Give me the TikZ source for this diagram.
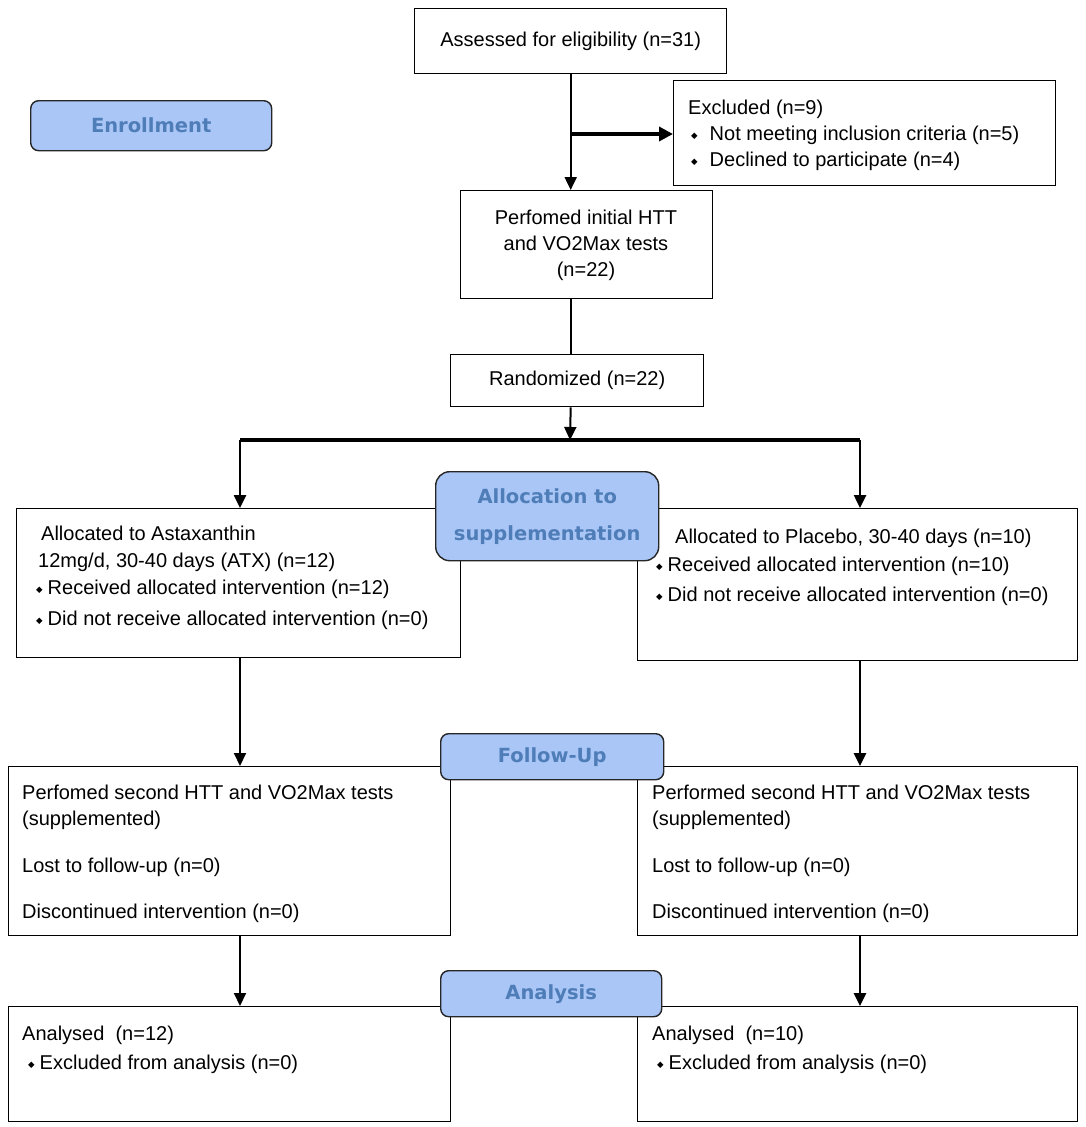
\documentclass[tikz,border=0pt]{standalone}
\usepackage{fontspec}
\setmainfont{Liberation Sans}
\newfontfamily\lblfont{DejaVu Sans}
\newfontfamily\symfont{DejaVu Sans}
\usetikzlibrary{arrows.meta}
\definecolor{lblfill}{HTML}{A9C6F6}
\definecolor{lbltext}{HTML}{4F7DB8}
\definecolor{lbldraw}{HTML}{262626}
\newcommand{\bul}[1][5pt]{\raisebox{2pt}{\symfont\fontsize{8.5}{8.5}\selectfont ◆}\hspace{#1}}
\tikzset{
  box/.style={draw=black, line width=1.4pt, fill=white, inner sep=0pt, anchor=north west},
  txt/.style={anchor=base west, inner sep=0pt, font=\fontsize{20}{26}\selectfont},
  ctxt/.style={inner sep=0pt, align=center, font=\fontsize{20}{26}\selectfont},
  lbl/.style={draw=lbldraw, line width=1.4pt, fill=lblfill, rounded corners=8pt, inner sep=0pt,
    anchor=north west, text=lbltext, align=center,
    font=\lblfont\bfseries\fontsize{19.5}{37}\selectfont},
  arr/.style={-{Triangle[length=13pt,width=12pt]}, line width=2pt},
  plain/.style={line width=2pt},
}
\begin{document}
\begin{tikzpicture}[x=1pt,y=-1pt]
\useasboundingbox[fill=white] (0,0) rectangle (1086,1127);

% boxes
\node[box, minimum width=312, minimum height=65, font=\fontsize{20}{26}\selectfont] (asm) at (414,8) {Assessed for eligibility (n=31)};
\node[box, minimum width=382, minimum height=105] (excl) at (673,80) {};
\node[box, minimum width=252, minimum height=108] (perf) at (460,190) {};
\node[box, minimum width=253, minimum height=52, font=\fontsize{20}{26}\selectfont] (rand) at (450,354) {Randomized (n=22)};
\node[box, minimum width=444, minimum height=149] (alL) at (16,508) {};
\node[box, minimum width=440, minimum height=152] (alR) at (637,508) {};
\node[box, minimum width=442, minimum height=169] (fuL) at (8,766) {};
\node[box, minimum width=440, minimum height=169] (fuR) at (637,766) {};
\node[box, minimum width=442, minimum height=115] (anL) at (8,1006) {};
\node[box, minimum width=440, minimum height=115] (anR) at (637,1006) {};

% labels
\node[lbl, minimum width=241, minimum height=50] (enr) at (30,100) {Enrollment};
\node[lbl, minimum width=223, minimum height=89, rounded corners=14pt] (alloc) at (435,471) {Allocation to\\supplementation};
\node[lbl, minimum width=223, minimum height=46] (fol) at (440,733) {Follow-Up};
\node[lbl, minimum width=221, minimum height=46] (ana) at (440,970) {Analysis};

% texts
\node[txt] (e1) at (688,114) {Excluded (n=9)};
\node[txt] (e2) at (691,140) {\bul[12pt]Not meeting inclusion criteria (n=5)};
\node[txt] (e3) at (691,166) {\bul[12pt]Declined to participate (n=4)};

\node[ctxt] (p1) at (586,245) {Perfomed initial HTT\\and VO2Max tests\\(n=22)};

\node[txt] (l1) at (41,540) {Allocated to Astaxanthin};
\node[txt] (l2) at (38,567) {12mg/d, 30-40 days (ATX) (n=12)};
\node[txt] (l3) at (36,594) {\bul Received allocated intervention (n=12)};
\node[txt] (l4) at (36,625) {\bul Did not receive allocated intervention (n=0)};

\node[txt] (r1) at (675,543) {Allocated to Placebo, 30-40 days (n=10)};
\node[txt] (r2) at (656,571) {\bul Received allocated intervention (n=10)};
\node[txt] (r3) at (656,601) {\bul Did not receive allocated intervention (n=0)};

\node[txt] (f1) at (22,799) {Perfomed second HTT and VO2Max tests};
\node[txt] (f2) at (22,825) {(supplemented)};
\node[txt] (f3) at (22,872) {Lost to follow-up (n=0)};
\node[txt] (f4) at (22,918) {Discontinued intervention (n=0)};

\node[txt] (g1) at (652,799) {Performed second HTT and VO2Max tests};
\node[txt] (g2) at (652,825) {(supplemented)};
\node[txt] (g3) at (652,872) {Lost to follow-up (n=0)};
\node[txt] (g4) at (652,918) {Discontinued intervention (n=0)};

\node[txt] (a1) at (22,1040) {Analysed\ \ (n=12)};
\node[txt] (a2) at (28,1069) {\bul Excluded from analysis (n=0)};
\node[txt] (b1) at (652,1040) {Analysed\ \ (n=10)};
\node[txt] (b2) at (657,1069) {\bul Excluded from analysis (n=0)};

% connectors
\coordinate (j1) at (570,134);
\coordinate (split) at (570,440);
\coordinate (sL) at (240,440);
\coordinate (sR) at (860,440);
\draw[arr] (asm.south) -- (asm.south |- perf.north);
\draw[-{Triangle[length=14pt,width=14pt]}, line width=3.5pt] (j1) -- (j1 -| excl.west);
\draw[plain] (asm.south |- perf.south) -- (asm.south |- rand.north);
\draw[arr] (asm.south |- rand.south) -- (split);
\draw[line width=3.5pt] (sL) -- (sR);
\draw[arr, line width=2.5pt] (sL) -- (sL |- alL.north);
\draw[arr, line width=2.5pt] (sR) -- (sR |- alR.north);
\draw[arr] (sL |- alL.south) -- (sL |- fuL.north);
\draw[arr, line width=2.8pt] (sR |- alR.south) -- (sR |- fuR.north);
\draw[arr] (sL |- fuL.south) -- (sL |- anL.north);
\draw[arr, line width=2.8pt] (sR |- fuR.south) -- (sR |- anR.north);
\end{tikzpicture}
\end{document}
